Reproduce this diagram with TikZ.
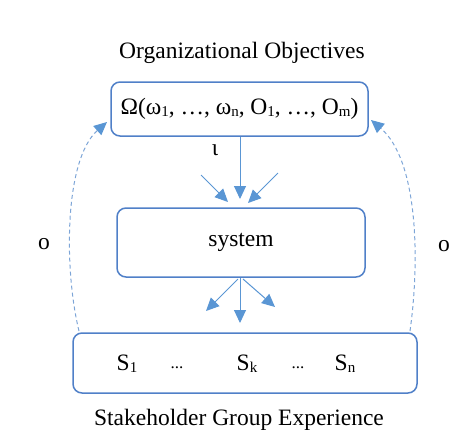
\documentclass[tikz,border=0pt]{standalone}
\usepackage{fontspec}
\setmainfont{Liberation Serif}
\usetikzlibrary{arrows.meta}
\definecolor{boxblue}{RGB}{80,128,200}
\definecolor{arrblue}{RGB}{90,150,212}
\definecolor{dashblue}{RGB}{125,165,215}
\newcommand{\lowsub}[1]{\raisebox{-0.15ex}{\fontsize{15}{15}\selectfont #1}}
\tikzset{
  lbl/.style={font=\fontsize{23.5}{26}\selectfont, inner sep=0pt},
  dots/.style={font=\fontsize{17}{20}\selectfont, inner sep=0pt},
  rbox/.style={draw=boxblue, line width=1.5pt, rounded corners=9pt, inner sep=0pt, font=\fontsize{23.5}{26}\selectfont},
  arr/.style={draw=arrblue, line width=1pt, -{Triangle[length=13pt,width=12pt]}},
  darr/.style={draw=dashblue, line width=1pt, dash pattern=on 4pt off 3pt, -{Triangle[length=13pt,width=12pt,fill=arrblue,color=arrblue,sep=0pt]}},
}
\begin{document}
\begin{tikzpicture}[x=1pt,y=-1pt]
\useasboundingbox (0,0) rectangle (474,440);
\node[lbl] (t1) at (242,53) {Organizational Objectives};
\node[rbox, minimum width=257pt, minimum height=54pt] (obj) at (239.5,109) {Ω(ω\lowsub{1}, …, ω\lowsub{n}, O\lowsub{1}, …, O\lowsub{m})};
\node[rbox, minimum width=248pt, minimum height=69pt] (sys) at (241,242.5) {system};
\node[rbox, minimum width=344pt, minimum height=60pt] (stk) at (245,363) {};
\node[lbl] (s1) at (127,364) {S\lowsub{1}};
\node[dots] (d1) at (177,368) {...};
\node[lbl] (sk) at (247,364) {S\lowsub{k}};
\node[dots] (d2) at (298,368) {...};
\node[lbl] (sn) at (345,364) {S\lowsub{n}};
\node[lbl] (t2) at (239,420) {Stakeholder Group Experience};
\node[lbl] (iota) at (215,150) {ι};
\node[lbl] (ol) at (44,244) {o};
\node[lbl] (or) at (444,246) {o};
% incoming arrows
\coordinate (c1) at (240,199);
\coordinate (a1) at (201,175);
\coordinate (a1e) at (228,202);
\coordinate (a2) at (278,173);
\coordinate (a2e) at (248,203);
\draw[arr] (obj.south -| c1) -- (c1);
\draw[arr] (a1) -- (a1e);
\draw[arr] (a2) -- (a2e);
% outgoing arrows
\coordinate (b0) at (240,323);
\coordinate (bl0) at (238,279);
\coordinate (bl) at (206,311);
\coordinate (br0) at (243,279);
\coordinate (br) at (275,307);
\draw[arr] (sys.south -| b0) -- (b0);
\draw[arr] (bl0) -- (bl);
\draw[arr] (br0) -- (br);
% feedback dashed
\coordinate (fl0) at (79,331);
\coordinate (fl1) at (107,122);
\coordinate (fr0) at (410,331);
\coordinate (fr1) at (371,120);
\draw[darr] (fl0) .. controls (64,270) and (64,160) .. (fl1);
\draw[darr] (fr0) .. controls (420,260) and (418,160) .. (fr1);
\end{tikzpicture}
\end{document}
